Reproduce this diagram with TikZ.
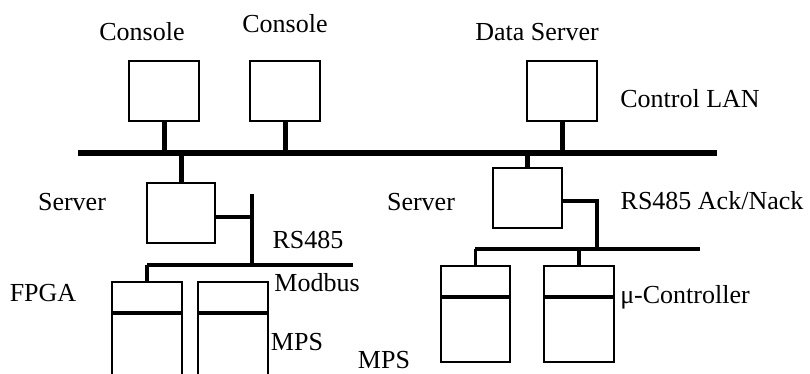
\documentclass[tikz,border=0pt]{standalone}
\usepackage{fontspec}
\setmainfont{Liberation Serif}
\tikzset{
	box/.style={draw, line width=1.6pt, minimum width=70pt, minimum height=60pt, inner sep=0pt},
	unit/.style={draw, line width=1.6pt, minimum width=70pt, minimum height=#1, inner sep=0pt, anchor=north},
	lan/.style={line width=6pt},
	stub/.style={line width=5pt},
	field/.style={line width=3.2pt},
	txt/.style={font=\fontsize{26}{30}\selectfont, inner sep=0pt}
}

\begin{document}
\begin{tikzpicture}[x=1pt, y=1pt]
	\useasboundingbox (0,0) rectangle (810,374);
	\node[box] (con1) at (164,283) {};
	\node[box] (con2) at (285,283) {};
	\node[box] (data) at (562,283) {};
	\node[box, minimum width=68pt] (srv1) at (181,161) {};
	\node[box, minimum width=69pt] (srv2) at (527.5,176) {};
	\node[unit=110pt] (fpga) at (147,93) {};
	\node[unit=110pt] (mps) at (233,93) {};
	\node[unit=96pt, minimum width=69pt] (mcu1) at (475.5,109) {};
	\node[unit=96pt] (mcu2) at (579,109) {};

	\coordinate (lanL) at (78,221);
	\coordinate (lanR) at (717,221);
	\coordinate (rs1) at (252,180);
	\coordinate (busL) at (147,109);
	\coordinate (busLR) at (353,109);
	\coordinate (rs2) at (597,125);
	\coordinate (busR) at (475,125);
	\coordinate (busRR) at (700,125);

	\draw[lan] (lanL) -- (lanR);
	\draw[stub] (con1.south) -- (con1.south |- lanL);
	\draw[stub] (con2.south) -- (con2.south |- lanL);
	\draw[stub] (data.south) -- (data.south |- lanL);
	\draw[stub] (srv1.north) -- (srv1.north |- lanL);
	\draw[stub] (srv2.north) -- (srv2.north |- lanL);

	\draw[field] ([yshift=-4pt]srv1.east) -- ([yshift=-4pt]srv1.east -| rs1);
	\draw[field] (rs1) -- (rs1 |- busL);
	\draw[field] (busL) -- (busLR);
	\draw[field] (busL) -- (fpga.north);

	\draw[field] ([yshift=-3pt]srv2.east) -| (rs2);
	\draw[field] (busR) -- (busRR);
	\draw[field] (mcu1.north) -- (mcu1.north |- busR);
	\draw[field] (mcu2.north) -- (mcu2.north |- busR);

	\foreach \u in {fpga,mps,mcu1,mcu2}
	\draw[field] ([yshift=-32pt]\u.north west) -- ([yshift=-32pt]\u.north east);

	\node[txt] (lcon1) at (142,342) {Console};
	\node[txt] (lcon2) at (285,350) {Console};
	\node[txt] (ldata) at (537,342) {Data Server};
	\node[txt] (llan) at (690,275) {Control LAN};
	\node[txt] (lsrv1) at (72,172) {Server};
	\node[txt] (lsrv2) at (421,172) {Server};
	\node[txt] (lrs) at (308,134) {RS485};
	\node[txt] (lack) at (712,173) {RS485 Ack/Nack};
	\node[txt] (lmod) at (317,91) {Modbus};
	\node[txt] (lfpga) at (43,81) {FPGA};
	\node[txt] (lmps1) at (297,32) {MPS};
	\node[txt] (lmps2) at (384,14) {MPS};
	\node[txt] (lmcu) at (685,77) {μ-Controller};
\end{tikzpicture}
\end{document}
